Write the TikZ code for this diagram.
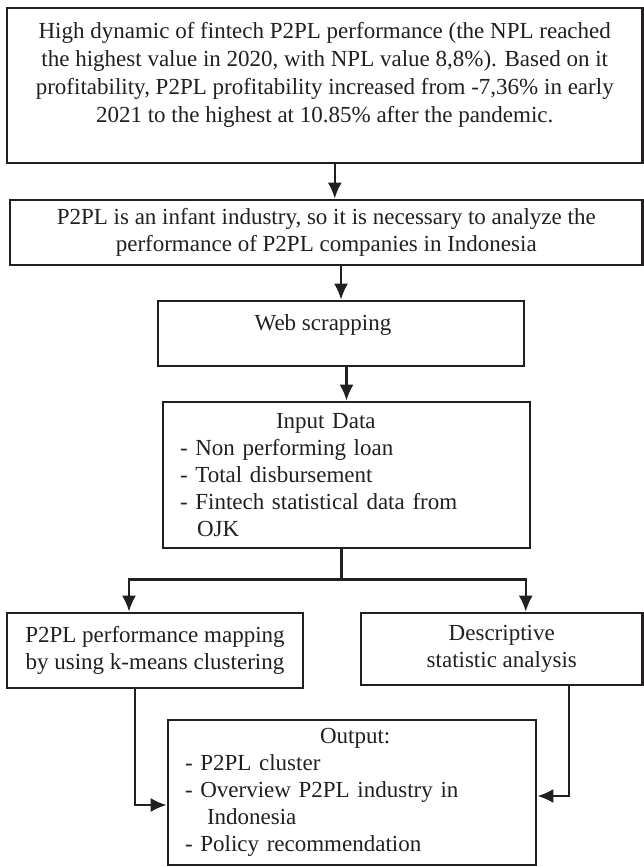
\documentclass[tikz,border=0pt]{standalone}
\usepackage{fontspec}
\setmainfont{Liberation Serif}
\usepackage{tikz}
\usetikzlibrary{arrows.meta,positioning,calc}
\definecolor{FigInk}{RGB}{35,31,32}

\begin{document}
\begin{tikzpicture}[x=0.5pt,y=-0.5pt, every node/.style={font=\fontsize{11.5}{13.5}\selectfont}, b/.style={draw=FigInk,line width=1.3pt,inner sep=0pt,align=center,text=FigInk}, a/.style={-{Latex[length=8pt,width=7pt]},line width=1.2pt,draw=FigInk}]
\useasboundingbox (0,0) rectangle (643,866);
\node[b,minimum width=317.75pt,minimum height=77.5pt,text depth=13pt,font=\fontsize{11.5}{14}\selectfont] (1) at (324.75,85.5) {High dynamic of fintech P2PL performance (the NPL reached\\the highest value in 2020, with NPL value 8,8\%). Based on it\\profitability, P2PL profitability increased from -7,36\% in early\\2021 to the highest at 10.85\% after the pandemic.};
\node[b,minimum width=316.25pt,minimum height=32.5pt] (2) at (326.25,232.5) {P2PL is an infant industry, so it is necessary to analyze the\\performance of P2PL companies in Indonesia};
\node[b,minimum width=183pt,minimum height=32.5pt,text depth=11pt] (web) at (341,333.5) {Web scrapping\hspace{18pt}};
\node[b,minimum width=183.5pt,minimum height=73pt,text width=166.5pt,align=left] (inp) at (346.5,475) {\hspace*{48pt}Input Data\\- Non performing loan\\- Total disbursement\\- Fintech statistical data from\\\hspace*{8.5pt}OJK};
\node[b,minimum width=148pt,minimum height=37.5pt] (map) at (155,650.5) {P2PL performance mapping\\by using k-means clustering};
\node[b,minimum width=140.75pt,minimum height=36pt] (desc) at (501.75,649) {Descriptive\\statistic analysis};
\node[b,minimum width=184pt,minimum height=72.5pt,text width=167pt,align=left] (out) at (352,792.5) {\hspace*{67.5pt}Output:\\- P2PL cluster\\- Overview P2PL industry in\\\hspace*{11pt}Indonesia\\- Policy recommendation};
% connectors
\draw[a] ([xshift=5pt]1.south) -- ([xshift=5pt]1.south |- 2.north);
\draw[a] (2.south -| web.north) -- (web.north);
\draw[a] (web.south -| inp.north) -- (inp.north);
\draw[line width=1.2pt,draw=FigInk] ([xshift=-2.5pt]inp.south) -- ++(0,30) coordinate (split);
\draw[a] (split) -| ([xshift=-13pt]map.north);
\draw[a] (split) -| ([xshift=12pt]desc.north);
\draw[a] ([xshift=-10pt]map.south) |- ([yshift=-6.25pt]out.west);
\draw[a] ([xshift=33.5pt]desc.south) |- ([yshift=-1.75pt]out.east);
\end{tikzpicture}
\end{document}
